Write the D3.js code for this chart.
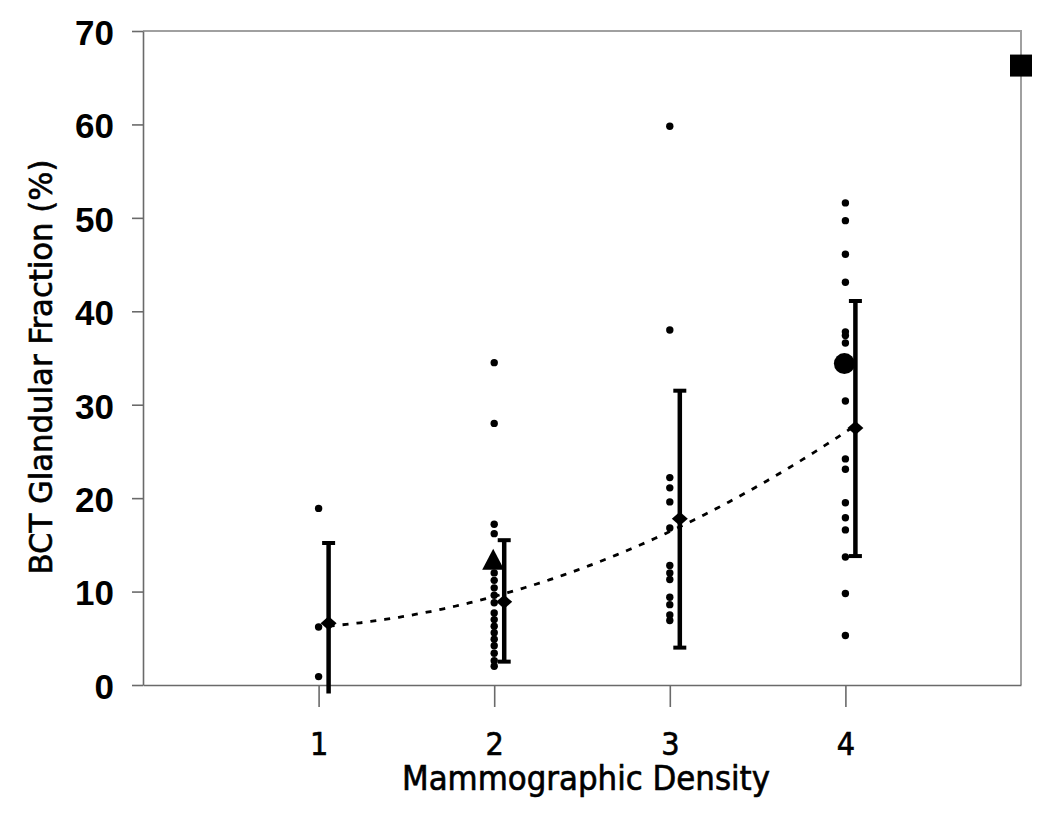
<!DOCTYPE html>
<html>
<head>
<meta charset="utf-8">
<script src="https://cdn.jsdelivr.net/npm/d3@7"></script>
<style>
  body { margin: 0; background: #fff; }
  svg { display: block; }
</style>
</head>
<body>
<svg id="chart_svg"></svg>
<script>
// density categories and the individual glandular fractions
var categories = [1, 2, 3, 4];
var cat1 = [18.9, 6.2, 0.9];
var cat2 = [34.5, 28.0, 17.2, 16.2, 12.0, 11.2, 10.4, 9.6, 8.8, 7.7, 7.0, 6.3, 5.6, 4.9, 4.2, 3.4, 2.6, 2.0];
var cat3 = [59.8, 38.0, 22.2, 21.1, 19.6, 16.8, 12.8, 12.0, 11.3, 9.4, 8.6, 7.5, 6.9];
var cat4 = [51.6, 49.7, 46.1, 43.1, 37.8, 37.4, 36.6, 30.4, 24.2, 23.1, 19.5, 17.9, 16.6, 13.7, 9.8, 5.3];

// mean and error bar limits per category
var means = [6.6, 8.9, 17.8, 27.5];
var lows = [-0.9, 2.5, 4.0, 13.8];
var highs = [15.2, 15.5, 31.5, 41.1];

// highlighted single cases
var triangleCase = [2, 13.4];
var circleCase = [4, 34.4];
var squareCase = [5, 66.3];

var yTicks = [0, 10, 20, 30, 40, 50, 60, 70];

var frameW = 1050,
    frameH = 814,
    plotL = 143, plotT = 31, plotR = 1021, plotB = 685,
    meanOffset = 0.057;

var svg = d3.select('svg#chart_svg')
    .attr('width', frameW)
    .attr('height', frameH);

var x = d3.scaleLinear().domain([0, 5]).range([plotL, plotR]);
var y = d3.scaleLinear().domain([0, 70]).range([plotB, plotT]);

// frame (top/right, light grey)
svg.append('path')
    .attr('d', 'M' + plotL + ',' + plotT + 'H' + plotR + 'V' + plotB)
    .attr('fill', 'none')
    .attr('stroke', '#a0a0a0')
    .attr('stroke-width', 2);

// y axis
var yAxis = svg.append('g')
    .attr('transform', 'translate(' + plotL + ',0)')
    .call(d3.axisLeft(y).tickValues(yTicks).tickSize(11).tickSizeOuter(0).tickPadding(18));
yAxis.selectAll('text')
    .attr('font-family', '"Liberation Sans", Arial, sans-serif')
    .attr('font-weight', 'bold')
    .attr('font-size', 35)
    .attr('dy', '0.38em')
    .attr('fill', '#000');

// x axis
var xAxis = svg.append('g')
    .attr('transform', 'translate(0,' + plotB + ')')
    .call(d3.axisBottom(x).tickValues(categories).tickFormat(d3.format('d'))
        .tickSize(22).tickSizeOuter(0).tickPadding(25));
xAxis.selectAll('text')
    .attr('font-family', '"DejaVu Sans Condensed", "DejaVu Sans", sans-serif')
    .attr('font-size', 32)
    .attr('fill', '#000')
    .attr('stroke', '#000')
    .attr('stroke-width', 0.6);

svg.selectAll('.domain, .tick line')
    .attr('stroke', '#6a6a6a')
    .attr('stroke-width', 1.6);

// axis titles
svg.append('text')
    .attr('x', 586)
    .attr('y', 790)
    .attr('text-anchor', 'middle')
    .attr('font-family', '"DejaVu Sans Condensed", "DejaVu Sans", sans-serif')
    .attr('font-size', 33)
    .attr('stroke', '#000')
    .attr('stroke-width', 0.6)
    .attr('textLength', 368)
    .attr('lengthAdjust', 'spacingAndGlyphs')
    .text('Mammographic Density');

svg.append('text')
    .attr('transform', 'translate(52,367) rotate(-90)')
    .attr('text-anchor', 'middle')
    .attr('font-family', '"DejaVu Sans Condensed", "DejaVu Sans", sans-serif')
    .attr('font-size', 32)
    .attr('stroke', '#000')
    .attr('stroke-width', 0.6)
    .attr('textLength', 415)
    .attr('lengthAdjust', 'spacingAndGlyphs')
    .text('BCT Glandular Fraction (%)');

// quadratic trend line fitted to the category means (least squares)
var mx = categories.map(function (c) { return c + meanOffset; });
function fitQuadratic(xs, ys) {
    var n = xs.length, S = [0, 0, 0, 0, 0], T = [0, 0, 0];
    for (var i = 0; i < n; i++) {
        for (var p = 0; p < 5; p++) S[p] += Math.pow(xs[i], p);
        for (var q = 0; q < 3; q++) T[q] += ys[i] * Math.pow(xs[i], q);
    }
    var A = [[S[0], S[1], S[2], T[0]], [S[1], S[2], S[3], T[1]], [S[2], S[3], S[4], T[2]]];
    for (var c = 0; c < 3; c++) {
        for (var r = c + 1; r < 3; r++) {
            var f = A[r][c] / A[c][c];
            for (var k = c; k < 4; k++) A[r][k] -= f * A[c][k];
        }
    }
    var b = [0, 0, 0];
    for (var r2 = 2; r2 >= 0; r2--) {
        var s = A[r2][3];
        for (var k2 = r2 + 1; k2 < 3; k2++) s -= A[r2][k2] * b[k2];
        b[r2] = s / A[r2][r2];
    }
    return function (t) { return b[0] + b[1] * t + b[2] * t * t; };
}
var trend = fitQuadratic(mx, means);
var trendX = d3.range(mx[0], mx[3] + 0.001, 0.02);
svg.append('path')
    .datum(trendX)
    .attr('d', d3.line().x(function (t) { return x(t); }).y(function (t) { return y(trend(t)); }))
    .attr('fill', 'none')
    .attr('stroke', '#000')
    .attr('stroke-width', 2.8)
    .attr('stroke-dasharray', '6,8');

// individual points
var groups = [cat1, cat2, cat3, cat4];
groups.forEach(function (vals, i) {
    svg.append('g').selectAll('circle')
        .data(vals)
        .enter()
        .append('circle')
        .attr('cx', x(categories[i]))
        .attr('cy', function (d) { return y(d); })
        .attr('r', 3.7)
        .attr('fill', '#000');
});

// error bars
var bars = svg.append('g').selectAll('g')
    .data(categories)
    .enter()
    .append('g');
bars.append('line')
    .attr('x1', function (d) { return x(d + meanOffset); })
    .attr('x2', function (d) { return x(d + meanOffset); })
    .attr('y1', function (d, i) { return y(lows[i]); })
    .attr('y2', function (d, i) { return y(highs[i]); })
    .attr('stroke', '#000')
    .attr('stroke-width', 4.5);
bars.append('line')
    .attr('x1', function (d) { return x(d + meanOffset) - 6.5; })
    .attr('x2', function (d) { return x(d + meanOffset) + 6.5; })
    .attr('y1', function (d, i) { return y(highs[i]); })
    .attr('y2', function (d, i) { return y(highs[i]); })
    .attr('stroke', '#000')
    .attr('stroke-width', 4);
bars.append('line')
    .attr('x1', function (d) { return x(d + meanOffset) - 6.5; })
    .attr('x2', function (d) { return x(d + meanOffset) + 6.5; })
    .attr('y1', function (d, i) { return y(lows[i]); })
    .attr('y2', function (d, i) { return y(lows[i]); })
    .attr('stroke', '#000')
    .attr('stroke-width', 4)
    .attr('display', function (d, i) { return lows[i] < 0 ? 'none' : null; });

// mean markers (diamonds)
bars.append('path')
    .attr('d', function (d, i) {
        var cx = x(d + meanOffset), cy = y(means[i]);
        return 'M' + (cx - 8) + ',' + cy + 'L' + cx + ',' + (cy - 7) + 'L' + (cx + 8) + ',' + cy + 'L' + cx + ',' + (cy + 7) + 'Z';
    })
    .attr('fill', '#000');

// highlighted cases
var tx = x(triangleCase[0]) - 1, ty = y(triangleCase[1]);
svg.append('path')
    .attr('d', 'M' + tx + ',' + (ty - 11) + 'L' + (tx + 11) + ',' + (ty + 10) + 'L' + (tx - 11) + ',' + (ty + 10) + 'Z')
    .attr('fill', '#000');

svg.append('circle')
    .attr('cx', x(circleCase[0]) - 1)
    .attr('cy', y(circleCase[1]))
    .attr('r', 10.5)
    .attr('fill', '#000');

svg.append('rect')
    .attr('x', x(squareCase[0]) - 11)
    .attr('y', y(squareCase[1]) - 11)
    .attr('width', 22)
    .attr('height', 22)
    .attr('fill', '#000');
</script>
</body>
</html>
